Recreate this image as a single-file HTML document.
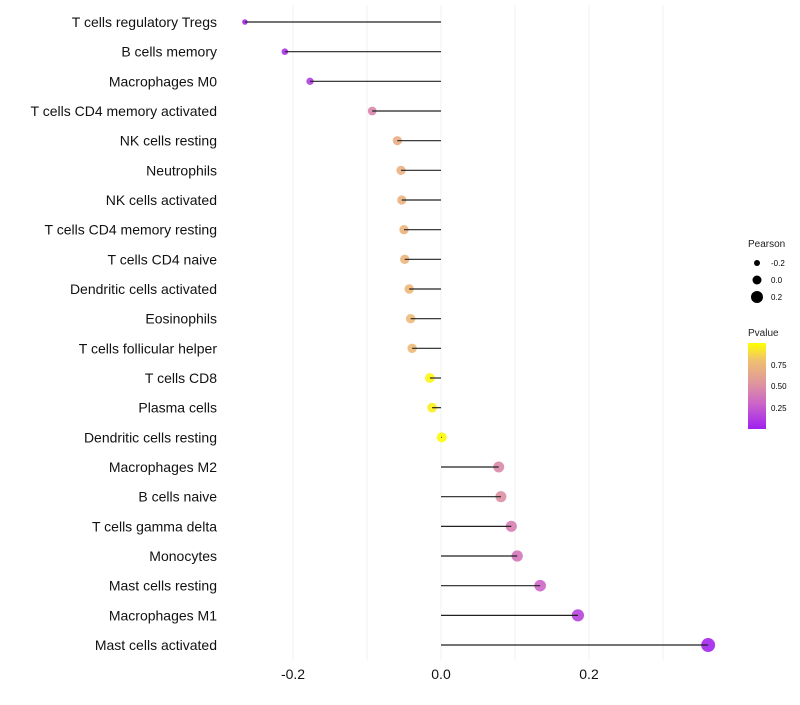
<!DOCTYPE html>
<html><head><meta charset="utf-8"><style>
body{margin:0;background:#fff;font-family:"Liberation Sans",sans-serif}
</style></head><body>
<svg id="chart" width="800" height="700" xmlns="http://www.w3.org/2000/svg">
<defs><linearGradient id="pg" x1="0" y1="1" x2="0" y2="0">
<stop offset="0" stop-color="#A020F0"/><stop offset="0.3" stop-color="#CC66C8"/>
<stop offset="0.55" stop-color="#E0999A"/><stop offset="0.8" stop-color="#F0C070"/>
<stop offset="1" stop-color="#FFFF00"/></linearGradient></defs>
<g id="grid"></g><g id="marks"></g><g id="labels"></g>
<g>
<text x="748" y="247" font-size="10" fill="#222">Pearson</text>
<circle cx="757" cy="263" r="3" fill="#000"/><text x="771" y="266" font-size="8">-0.2</text>
<circle cx="757" cy="280" r="4.5" fill="#000"/><text x="771" y="283" font-size="8">0.0</text>
<circle cx="757" cy="297" r="6" fill="#000"/><text x="771" y="300" font-size="8">0.2</text>
</g>
<g>
<text x="748" y="336" font-size="10" fill="#222">Pvalue</text>
<rect x="748" y="343" width="18" height="86" fill="url(#pg)"/>
<text x="771" y="368" font-size="8">0.75</text>
<text x="771" y="389" font-size="8">0.50</text>
<text x="771" y="411" font-size="8">0.25</text>
</g>
</svg>
<script>
const cells=["T cells regulatory  Tregs","B cells memory","Macrophages M0","T cells CD4 memory activated","NK cells resting","Neutrophils","NK cells activated","T cells CD4 memory resting","T cells CD4 naive","Dendritic cells activated","Eosinophils","T cells follicular helper","T cells CD8","Plasma cells","Dendritic cells resting","Macrophages M2","B cells naive","T cells gamma delta","Monocytes","Mast cells resting","Macrophages M1","Mast cells activated"];
const pearson=[-0.265,-0.211,-0.177,-0.093,-0.059,-0.054,-0.053,-0.05,-0.049,-0.043,-0.041,-0.039,-0.015,-0.012,0.001,0.078,0.081,0.095,0.103,0.134,0.185,0.361];
const pvalue=[0.03,0.08,0.12,0.45,0.68,0.7,0.7,0.72,0.73,0.75,0.76,0.76,0.97,0.95,0.99,0.47,0.5,0.42,0.38,0.3,0.15,0.02];
const xticks=[-0.2,0.0,0.2];
const ns="http://www.w3.org/2000/svg";
const X=v=>441+v*740, Y=i=>22+i*29.667;
const R=v=>Math.sqrt(Math.max(4,25+v*66));
function col(p){const s=[[0,[160,32,240]],[0.3,[204,102,200]],[0.55,[224,153,154]],[0.8,[240,192,112]],[1,[255,255,0]]];
for(let k=1;k<s.length;k++){if(p<=s[k][0]){const t=(p-s[k-1][0])/(s[k][0]-s[k-1][0]);const c=s[k-1][1].map((a,j)=>Math.round(a+(s[k][1][j]-a)*t));return`rgb(${c})`;}}return"rgb(255,255,0)";}
function mk(t,a,p){const e=document.createElementNS(ns,t);for(const k in a)e.setAttribute(k,a[k]);p.appendChild(e);return e;}
const g=document.getElementById('grid'),m=document.getElementById('marks'),l=document.getElementById('labels');
for(let v=-0.2;v<=0.31;v+=0.1){const ln=mk('line',{x1:X(v),x2:X(v),y1:5,y2:660,stroke:'#f0f0f0','stroke-width':1},g);

}
xticks.forEach(v=>{const t=mk('text',{x:X(v),y:679,'text-anchor':'middle','font-size':14,fill:'#111'},l);t.textContent=v.toFixed(1);

});
cells.forEach((c,i)=>{const t=mk('text',{x:217,y:Y(i)+5,'text-anchor':'end','font-size':14,fill:'#111'},l);t.textContent=c;


const pt=mk('circle',{cx:X(pearson[i]),cy:Y(i),r:R(pearson[i]),fill:col(pvalue[i]),'fill-opacity':0.9},m);


const sg=mk('line',{x1:X(0),x2:X(pearson[i]),y1:Y(i),y2:Y(i),stroke:'#222','stroke-width':1.2},m);

});
</script>
</body></html>
